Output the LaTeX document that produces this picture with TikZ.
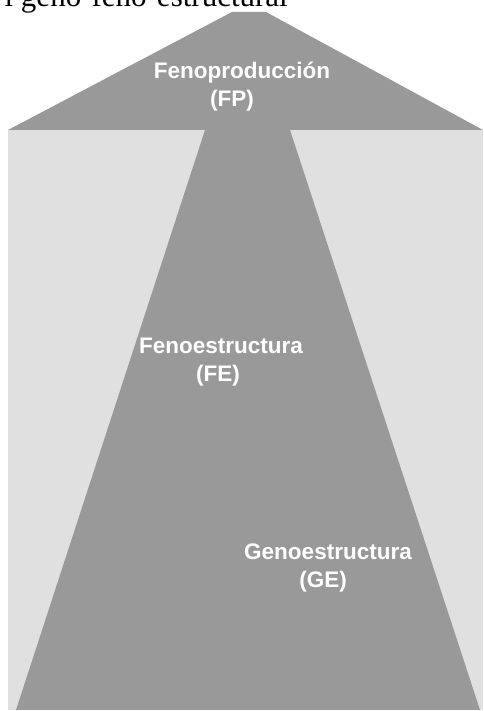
\documentclass[tikz,border=0pt]{standalone}
\usepackage{fontspec}
\usepackage{xcolor}
\setmainfont{Liberation Serif}
\newfontfamily\labelfont{Liberation Sans}
\definecolor{fpgray}{RGB}{153,153,153}
\definecolor{bggray}{RGB}{224,224,224}

\begin{document}
\begin{tikzpicture}[x=1pt,y=1pt,
    lab/.style={text=white, font=\labelfont\bfseries\fontsize{22.5}{28}\selectfont,
      align=center, inner sep=0pt}]
  \useasboundingbox (0,0) rectangle (483,711);
  \clip (0,0) rectangle (483,711);

  % Caption cut off at the top
  \node[anchor=base east, inner sep=0pt, font=\fontsize{31}{31}\selectfont] (title) at (288,704) {l geno-feno-estructural};

  % Light background panel
  \fill[bggray] (8,1) rectangle (483,581);

  % Dark roof and trunk in one piece
  \fill[fpgray] (232,699) -- (266,699) -- (483,581) -- (290,581)
    -- (480,1) -- (16,1) -- (205,581) -- (8,581) -- cycle;

  % Labels
  \node[lab] (fp) at (242,624.5) {Fenoproducción\\(FP)\hspace*{20pt}};
  \node[lab] (fe) at (221,348.5) {Fenoestructura\\(FE)\hspace*{6pt}};
  \node[lab] (ge) at (328,143.5) {Genoestructura\\(GE)\hspace*{10pt}};
\end{tikzpicture}
\end{document}
